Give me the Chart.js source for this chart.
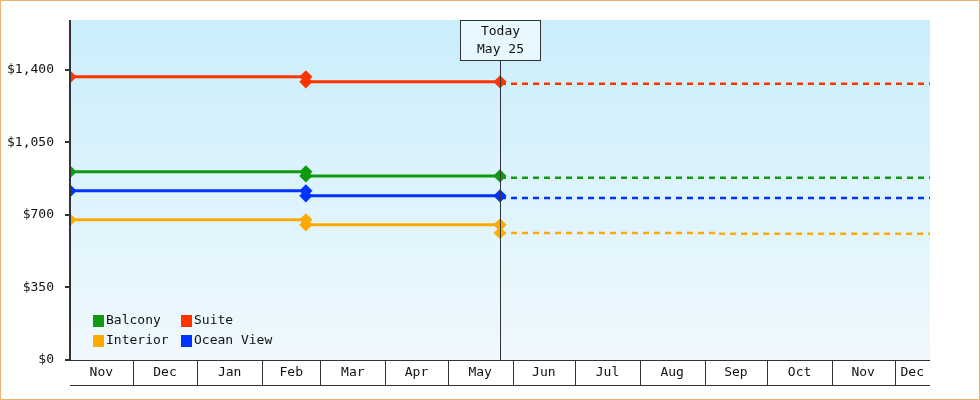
<!DOCTYPE html>
<html><head><meta charset="utf-8">
<script src="https://cdn.jsdelivr.net/npm/chart.js@4"></script>
<style>html,body{margin:0;padding:0;background:#fff}#w{width:980px;height:400px}</style>
</head><body><div id="w"><canvas id="c"></canvas></div>
<script>
// day offsets from Nov 1
const monthLabels = ['Nov','Dec','Jan','Feb','Mar','Apr','May','Jun','Jul','Aug','Sep','Oct','Nov','Dec'];
const monthStarts = [0,30,61,92,120,151,181,212,242,273,304,334,365,395];
const xMax = 412;
const todayDay = 206;
const changeDay = 113;
const yTicks = [0,350,700,1050,1400];
const seriesNames = ['Balcony','Suite','Interior','Ocean View'];
const seriesColors = ['#109a10','#ff3300','#ffaa00','#0033ff'];
const balcony = [[0,908],[changeDay,908],[changeDay,888],[todayDay,888]];
const balconyFut = [[todayDay,879],[xMax,879]];
const suite = [[0,1366],[changeDay,1366],[changeDay,1342],[todayDay,1342]];
const suiteFut = [[todayDay,1332],[xMax,1332]];
const interior = [[0,676],[changeDay,676],[changeDay,652],[todayDay,652]];
const interiorFut = [[todayDay,613],[310,613],[310,609],[xMax,609]];
const ocean = [[0,816],[changeDay,816],[changeDay,792],[todayDay,792]];
const oceanFut = [[todayDay,782],[xMax,782]];

const F = '"DejaVu Sans Mono", monospace';
const pts = a => a.map(p => ({x:p[0], y:p[1]}));
function solid(d,c){return {data:pts(d),borderColor:c,backgroundColor:c,borderWidth:3,pointStyle:'rectRot',pointRadius:4.5,pointHoverRadius:4.5};}
function dash(d,c,first){return {data:pts(d),borderColor:c,backgroundColor:c,borderWidth:2.5,borderDash:[6,5],pointStyle:'rectRot',pointRadius:(ctx)=>first&&ctx.dataIndex===0?4.5:0};}

const deco = {
  id:'deco',
  beforeDraw(ch){
    const {ctx,chartArea:a}=ch;
    const g=ctx.createLinearGradient(0,a.top,0,a.bottom);
    g.addColorStop(0,'#caeefb');g.addColorStop(1,'#f0f9fe');
    ctx.fillStyle=g;ctx.fillRect(a.left,a.top,a.right-a.left,a.bottom-a.top);
  },
  afterDraw(ch){
    const {ctx,chartArea:a,scales:{x,y}}=ch;
    ctx.save();
    ctx.strokeStyle='#f0b070';ctx.lineWidth=1;ctx.strokeRect(0.5,0.5,979,399);
    ctx.strokeStyle='#333';ctx.lineWidth=1;
    ctx.beginPath();ctx.moveTo(a.left,385.5);ctx.lineTo(a.right,385.5);ctx.stroke();
    ctx.beginPath();ctx.moveTo(a.left,360.5);ctx.lineTo(a.right,360.5);ctx.stroke();
    ctx.font='13px '+F;ctx.fillStyle='#111';ctx.textAlign='center';ctx.textBaseline='middle';
    for(let i=0;i<monthStarts.length;i++){
      const x0=x.getPixelForValue(monthStarts[i]);
      const x1=i+1<monthStarts.length?x.getPixelForValue(monthStarts[i+1]):a.right;
      if(i>0){ctx.beginPath();ctx.moveTo(Math.round(x0)+0.5,360);ctx.lineTo(Math.round(x0)+0.5,385);ctx.stroke();}
      ctx.fillText(monthLabels[i],(x0+Math.min(x1,a.right))/2,373);
    }
    const tx=Math.round(x.getPixelForValue(todayDay))+0.5;
    ctx.beginPath();ctx.moveTo(tx,60);ctx.lineTo(tx,a.bottom);ctx.stroke();
    ctx.fillStyle='#e6f7fd';ctx.fillRect(tx-40,20,80,40);ctx.strokeRect(tx-40,20.5,80,40);
    ctx.fillStyle='#111';ctx.fillText('Today',tx,32);ctx.fillText('May 25',tx,50);
    // left axis line and ticks
    ctx.strokeStyle='#333';ctx.lineWidth=2;ctx.beginPath();ctx.moveTo(a.left,a.top);ctx.lineTo(a.left,a.bottom+1);ctx.stroke();
    for(const v of yTicks){const py=Math.round(y.getPixelForValue(v));ctx.beginPath();ctx.moveTo(a.left-5,py);ctx.lineTo(a.left,py);ctx.stroke();}
    const pos=[[93,321],[181,321],[93,341],[181,341]];
    ctx.textAlign='left';
    for(let i=0;i<4;i++){
      ctx.fillStyle=seriesColors[i];ctx.fillRect(pos[i][0],pos[i][1]-6,11,12);
      ctx.fillStyle='#111';ctx.fillText(seriesNames[i],pos[i][0]+13,pos[i][1]);
    }
    ctx.restore();
  }
};

new Chart(document.getElementById('c'),{
  type:'line',
  data:{datasets:[
    solid(balcony,seriesColors[0]),dash(balconyFut,seriesColors[0],false),
    solid(suite,seriesColors[1]),dash(suiteFut,seriesColors[1],false),
    solid(ocean,seriesColors[3]),dash(oceanFut,seriesColors[3],false),
    solid(interior,seriesColors[2]),dash(interiorFut,seriesColors[2],true)
  ]},
  options:{
    responsive:true,maintainAspectRatio:false,animation:false,
    layout:{padding:{left:0,top:20,right:50,bottom:40}},
    plugins:{legend:{display:false},tooltip:{enabled:false}},
    scales:{
      x:{type:'linear',min:0,max:xMax,display:false},
      y:{min:0,max:1640,
        afterBuildTicks(s){s.ticks=yTicks.map(v=>({value:v}));},
        afterFit(s){s.width=70;},
        grid:{display:false},
        border:{display:false},
        ticks:{color:'#111',font:{family:F,size:13},padding:8,callback:v=>'$'+v.toLocaleString('en-US')}
      }
    }
  },
  plugins:[deco]
});
</script></body></html>
